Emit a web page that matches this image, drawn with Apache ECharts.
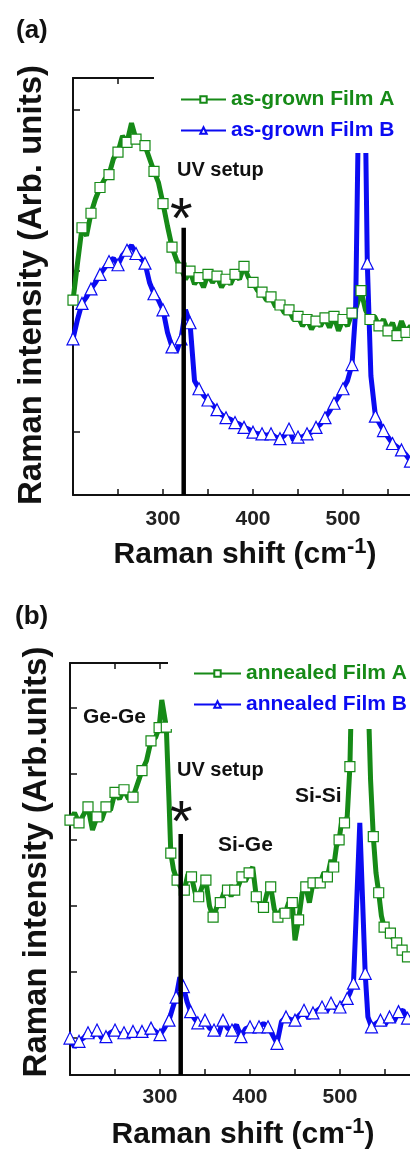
<!DOCTYPE html>
<html>
<head>
<meta charset="utf-8">
<script src="https://cdn.jsdelivr.net/npm/echarts@6/dist/echarts.min.js"></script>
<style>
  html, body { margin: 0; padding: 0; background: #fff; }
  #chart { width: 410px; height: 1153px; }
</style>
</head>
<body>
<div id="chart"></div>
<script>
// ---- Raman spectra, intensity in arbitrary units ----

// (a) as-grown films
const asGrownA_shift = [200,205,210,215,220,225,230,235,240,245,250,255,260,265,270,275,280,285,290,295,300,305,310,315,320,325,330,335,340,345,350,355,360,365,370,375,380,385,390,395,400,405,410,415,420,425,430,435,440,445,450,455,460,465,470,475,480,485,490,495,500,505,510,515,520,525,530,535,540,545,550,555,560,565,570,575,580];
const asGrownA_int = [1.82,2.05,2.27,2.22,2.36,2.45,2.52,2.57,2.60,2.70,2.74,2.84,2.80,2.92,2.82,2.80,2.78,2.70,2.62,2.55,2.42,2.28,2.15,2.07,2.02,1.95,2.00,1.92,1.96,1.90,1.98,1.93,1.97,1.90,1.95,1.92,1.98,1.95,2.03,1.96,1.93,1.88,1.87,1.82,1.84,1.78,1.79,1.74,1.76,1.70,1.72,1.66,1.70,1.64,1.69,1.66,1.71,1.65,1.72,1.63,1.70,1.66,1.74,1.78,1.88,1.76,1.70,1.72,1.66,1.70,1.63,1.68,1.60,1.69,1.62,1.66,1.63];

const asGrownB_shift = [200,205,210,215,220,225,230,235,240,245,250,255,260,265,270,275,280,285,290,295,300,305,310,315,320,325,330,335,340,345,350,355,360,365,370,375,380,385,390,395,400,405,410,415,420,425,430,435,440,445,450,455,460,465,470,475,480,485,490,495,500,505,510,514,518,521,527,531,536,540,545,550,555,560,565,570,575,580];
const asGrownB_int = [1.58,1.70,1.80,1.84,1.89,1.93,1.98,2.02,2.06,2.08,2.04,2.10,2.13,2.16,2.11,2.08,2.05,1.93,1.86,1.82,1.76,1.62,1.53,1.50,1.58,1.76,1.68,1.32,1.27,1.23,1.20,1.17,1.14,1.11,1.09,1.08,1.06,1.05,1.03,1.02,1.00,0.99,0.99,0.98,0.99,0.97,0.96,0.98,1.02,0.95,0.97,0.97,0.99,1.00,1.03,1.05,1.09,1.13,1.18,1.22,1.27,1.32,1.42,1.75,3.30,4.60,2.05,1.35,1.10,1.06,1.01,0.97,0.93,0.91,0.89,0.86,0.82,0.80];

// (b) annealed films
const annealedA_shift = [200,205,210,215,220,225,230,235,240,245,250,255,260,265,270,275,280,285,290,295,299,302,307,310,312,315,319,323,327,331,335,339,343,347,351,355,359,363,367,371,375,379,383,387,391,395,399,403,407,411,415,419,423,427,431,435,439,443,447,450,454,458,462,466,470,474,478,482,486,490,493,496,499,502,505,508,511,514,520,527,531,534,537,540,543,546,549,552,556,559,563,566,569,572,575,578];
const annealedA_int = [4.30,4.41,4.26,4.38,4.50,4.15,4.35,4.30,4.50,4.45,4.72,4.62,4.76,4.62,4.65,4.85,5.05,5.20,5.50,5.55,5.70,6.12,5.71,4.60,3.80,3.55,3.39,3.28,3.24,3.48,3.44,3.20,3.14,3.30,3.39,3.00,2.83,2.98,3.05,3.20,3.24,3.15,3.24,3.30,3.44,3.38,3.50,3.59,3.14,3.05,2.98,3.20,3.29,2.95,2.83,2.95,2.89,3.05,3.05,2.48,2.79,3.20,3.29,3.05,3.35,3.30,3.35,3.50,3.44,3.70,3.59,3.90,4.00,4.30,4.26,4.35,5.11,7.00,10.0,8.50,6.30,4.90,4.05,3.50,3.20,2.85,2.68,2.62,2.59,2.50,2.44,2.38,2.33,2.28,2.23,2.26];

const annealedB_shift = [200,205,210,215,220,225,230,235,240,245,250,255,260,265,270,275,280,285,290,295,300,305,310,314,318,322,326,330,334,338,342,346,350,355,360,365,370,375,380,385,390,395,400,405,410,415,420,425,430,435,440,445,450,455,460,465,470,475,480,485,490,495,500,505,508,511,515,522,528,531,535,540,545,550,555,560,565,570,575,580];
const annealedB_int = [1.00,0.86,0.95,1.00,1.08,1.02,1.12,1.00,1.02,1.08,1.12,1.05,1.08,1.02,1.10,1.05,1.10,1.06,1.15,1.10,1.05,1.15,1.27,1.45,1.62,1.92,1.78,1.55,1.40,1.30,1.23,1.20,1.27,1.15,1.12,1.05,1.27,1.15,1.12,1.20,1.02,1.14,1.17,1.10,1.17,1.22,1.17,1.05,0.92,1.25,1.32,1.28,1.27,1.35,1.42,1.30,1.38,1.42,1.47,1.40,1.53,1.45,1.47,1.55,1.60,1.68,1.83,4.26,1.98,1.32,1.17,1.22,1.27,1.20,1.32,1.25,1.40,1.42,1.30,1.32];

// UV setup reference line (cm^-1) and its top in each panel
const uvShift = 323;
const uvTopA = 2.27;
const uvTopB = 4.09;

// axis ranges and ticks
const shiftMin = 200, shiftMax = 600, shiftStep = 50;
const shiftLabels = [300, 400, 500];
const rangeA = [0.61, 3.2];
const rangeB = [0.44, 6.68];
const ticksA = [1, 2, 3];
const ticksB = [1, 2, 3, 4, 5, 6];

// ---- styling ----
const GREEN = '#168a17';
const BLUE = '#0b0bf2';
const INK = '#111';
const FONT = '"Liberation Sans", Arial, sans-serif';
const MARKER_EVERY = 2;   // symbols drawn on every other sample

function samples(xs, ys) {
  return xs.map((x, i) => i % MARKER_EVERY === 0 ? [x, ys[i]] : { value: [x, ys[i]], symbol: 'none' });
}

function spectrum(name, xs, ys, color, symbol, size, gi) {
  return {
    name, type: 'line', xAxisIndex: gi * 2, yAxisIndex: gi,
    data: samples(xs, ys),
    symbol, symbolSize: size, showSymbol: true, showAllSymbol: true, clip: true,
    lineStyle: { color, width: 5 },
    itemStyle: { color: '#fff', borderColor: color, borderWidth: 1.2 },
    emphasis: { disabled: true }, z: 2
  };
}

function uvLine(gi, range, top) {
  return {
    name: 'UV setup', type: 'line', xAxisIndex: gi * 2, yAxisIndex: gi,
    data: [[uvShift, range[0]], [uvShift, top]],
    symbol: 'none', lineStyle: { color: '#000', width: 4.5 },
    emphasis: { disabled: true }, z: 3
  };
}

function xBottom(gi, margin) {
  return {
    type: 'value', gridIndex: gi, position: 'bottom',
    min: shiftMin, max: shiftMax, interval: shiftStep,
    axisLine: { show: true, onZero: false, lineStyle: { color: INK, width: 2 } },
    axisTick: { show: true, inside: true, length: 6, lineStyle: { color: INK, width: 1.5 } },
    axisLabel: { customValues: shiftLabels, margin, fontFamily: FONT, fontWeight: 'bold', fontSize: 21, color: '#222' },
    splitLine: { show: false }
  };
}

function xTop(gi) {
  return {
    type: 'value', gridIndex: gi, position: 'top',
    min: shiftMin, max: shiftMax, interval: shiftStep,
    axisLine: { show: true, onZero: false, lineStyle: { color: INK, width: 2 } },
    axisTick: { show: true, inside: true, length: 6, lineStyle: { color: INK, width: 1.5 } },
    axisLabel: { show: false },
    splitLine: { show: false }
  };
}

function yLeft(gi, range, ticks) {
  return {
    type: 'value', gridIndex: gi, min: range[0], max: range[1],
    axisLine: { show: true, onZero: false, lineStyle: { color: INK, width: 2 } },
    axisTick: { show: true, inside: true, length: 7, customValues: ticks, lineStyle: { color: INK, width: 1.5 } },
    axisLabel: { show: false },
    splitLine: { show: false }
  };
}

function label(text, x, y, size, weight) {
  return {
    type: 'text', x, y, z: 10,
    style: { text, fill: '#111', font: (weight || 'bold') + ' ' + size + 'px ' + FONT, align: 'left', verticalAlign: 'middle' }
  };
}

function xTitle(x, y) {
  return {
    type: 'text', x, y, z: 10,
    style: {
      text: 'Raman shift (cm{sup|-1})', fill: '#111',
      font: 'bold 30px ' + FONT, align: 'center', verticalAlign: 'middle',
      rich: { sup: { fontFamily: FONT, fontWeight: 'bold', fontSize: 22, fill: '#111', verticalAlign: 'top', padding: [0, 0, 16, 0] } }
    }
  };
}

function yTitle(text, x, y) {
  return {
    type: 'text', x, y, rotation: Math.PI / 2, z: 10,
    style: { text, fill: '#111', font: 'bold 33px ' + FONT, align: 'center', verticalAlign: 'middle' }
  };
}

const chart = echarts.init(document.getElementById('chart'), null, { width: 410, height: 1153, renderer: 'canvas' });

chart.setOption({
  animation: false,
  backgroundColor: '#fff',
  grid: [
    { left: 73, top: 78, width: 360, height: 417, outerBoundsMode: 'none', containLabel: false },
    { left: 70, top: 663, width: 360, height: 412, outerBoundsMode: 'none', containLabel: false }
  ],
  xAxis: [xBottom(0, 14), xTop(0), xBottom(1, 12), xTop(1)],
  yAxis: [yLeft(0, rangeA, ticksA), yLeft(1, rangeB, ticksB)],
  legend: [
    {
      data: [
        { name: 'as-grown Film A', textStyle: { color: GREEN } },
        { name: 'as-grown Film B', textStyle: { color: BLUE } }
      ],
      orient: 'vertical', left: 154, top: 75, padding: [14, 40, 12, 26],
      itemGap: 10, itemWidth: 45, itemHeight: 8, backgroundColor: '#fff', selectedMode: false,
      textStyle: { fontFamily: FONT, fontWeight: 'bold', fontSize: 21 }
    },
    {
      data: [
        { name: 'annealed Film A', textStyle: { color: GREEN } },
        { name: 'annealed Film B', textStyle: { color: BLUE } }
      ],
      orient: 'vertical', left: 168, top: 659, padding: [4, 40, 14, 25],
      itemGap: 10, itemWidth: 47, itemHeight: 8, backgroundColor: '#fff', selectedMode: false,
      textStyle: { fontFamily: FONT, fontWeight: 'bold', fontSize: 21 }
    }
  ],
  series: [
    spectrum('as-grown Film A', asGrownA_shift, asGrownA_int, GREEN, 'rect', 10, 0),
    spectrum('as-grown Film B', asGrownB_shift, asGrownB_int, BLUE, 'triangle', 12, 0),
    uvLine(0, rangeA, uvTopA),
    spectrum('annealed Film A', annealedA_shift, annealedA_int, GREEN, 'rect', 10, 1),
    spectrum('annealed Film B', annealedB_shift, annealedB_int, BLUE, 'triangle', 12, 1),
    uvLine(1, rangeB, uvTopB)
  ],
  graphic: [
    label('(a)', 16, 31, 26),
    label('(b)', 15, 617, 26),
    xTitle(245, 555),
    xTitle(243, 1135),
    yTitle('Raman intensity (Arb. units)', 32, 285),
    yTitle('Raman intensity (Arb.units)', 37, 862),
    label('UV setup', 177, 170, 20),
    label('*', 170, 222, 58, 'normal'),
    label('UV setup', 177, 770, 20),
    label('*', 170, 825, 58, 'normal'),
    label('Ge-Ge', 83, 717, 21),
    label('Si-Ge', 218, 845, 21),
    label('Si-Si', 295, 796, 21)
  ]
});
</script>
</body>
</html>
